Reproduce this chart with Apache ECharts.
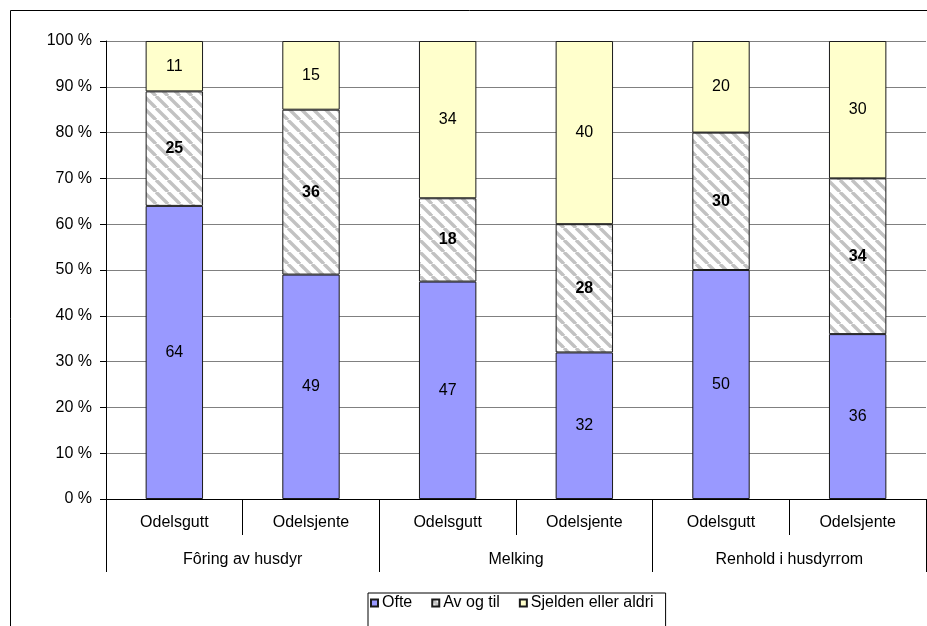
<!DOCTYPE html>
<html>
<head>
<meta charset="utf-8">
<script src="https://cdn.jsdelivr.net/npm/echarts@6/dist/echarts.min.js"></script>
<style>
html,body{margin:0;padding:0;background:#fff;}
#chart{width:927px;height:626px;}
</style>
</head>
<body>
<div id="chart"></div>
<script>
// Data
const subCategories = ['Odelsgutt', 'Odelsjente', 'Odelsgutt', 'Odelsjente', 'Odelsgutt', 'Odelsjente'];
const groupCategories = ['Fôring av husdyr', 'Melking', 'Renhold i husdyrrom'];
const seriesNames = ['Ofte', 'Av og til', 'Sjelden eller aldri'];
const ofte = [64, 49, 47, 32, 50, 36];
const avOgTil = [25, 36, 18, 28, 30, 34];
const sjelden = [11, 15, 34, 40, 20, 30];
const yTicks = [0, 10, 20, 30, 40, 50, 60, 70, 80, 90, 100];

const totals = ofte.map((v, i) => v + avOgTil[i] + sjelden[i]);
const pct = arr => arr.map((v, i) => ({ value: v / totals[i] * 100, raw: v }));

// hatch pattern
const pc = document.createElement('canvas');
const S = 12;
pc.width = S; pc.height = S;
const ctx = pc.getContext('2d');
ctx.fillStyle = '#ffffff';
ctx.fillRect(0, 0, S, S);
ctx.strokeStyle = '#c2c2c2';
ctx.lineWidth = 3.4;
for (let k = -1; k <= 1; k++) {
  ctx.beginPath();
  ctx.moveTo(k * S, 0);
  ctx.lineTo(k * S + S, S);
  ctx.stroke();
}

const font = 'Liberation Sans, Arial, sans-serif';
const FS = 16;
const chart = echarts.init(document.getElementById('chart'), null, { renderer: 'canvas' });

function mkSeries(name, data, color, bold) {
  return {
    name: name,
    type: 'bar',
    stack: 'total',
    xAxisIndex: 0,
    barWidth: '42%',
    data: pct(data),
    itemStyle: { color: color, borderColor: '#1a1a1a', borderWidth: 1 },
    emphasis: { disabled: true },
    label: {
      show: true,
      position: 'inside',
      color: '#000',
      fontFamily: font,
      fontSize: FS,
      fontWeight: bold ? 'bold' : 'normal',
      formatter: p => String(p.data.raw)
    }
  };
}

chart.setOption({
  animation: false,
  backgroundColor: '#fff',
  textStyle: { fontFamily: font },
  graphic: [{
    type: 'rect',
    shape: { x: 10.5, y: 10.5, width: 1000, height: 1000 },
    style: { fill: 'none', stroke: '#000', lineWidth: 1 },
    silent: true,
    z: -1
  }],
  grid: { left: 106, right: 1, top: 41, bottom: 127, containLabel: false },
  legend: {
    left: 368,
    top: 593,
    data: seriesNames,
    itemWidth: 7,
    itemHeight: 7,
    itemGap: 19,
    padding: [2, 12, 30, 2],
    borderColor: '#000',
    borderWidth: 1,
    icon: 'rect',
    textStyle: { fontSize: FS, color: '#000', fontFamily: font, padding: [0, 0, 0, -1] },
    selectedMode: false
  },
  xAxis: [{
    type: 'category',
    data: subCategories,
    position: 'bottom',
    axisLine: { show: true, lineStyle: { color: '#000', width: 1 } },
    axisTick: { show: true, length: 36, interval: 0, lineStyle: { color: '#000' } },
    axisLabel: { interval: 0, margin: 16, fontSize: FS, color: '#000', fontFamily: font },
    splitLine: { show: false }
  }, {
    type: 'category',
    data: groupCategories,
    position: 'bottom',
    axisLine: { show: false },
    axisTick: { show: true, length: 73, interval: 0, lineStyle: { color: '#000' } },
    axisLabel: { interval: 0, margin: 53, fontSize: FS, color: '#000', fontFamily: font },
    splitLine: { show: false }
  }],
  yAxis: {
    type: 'value',
    min: 0,
    max: 100,
    interval: 10,
    axisLine: { show: true, lineStyle: { color: '#000' } },
    axisTick: { show: true, length: 6, lineStyle: { color: '#000' } },
    axisLabel: {
      margin: 14, fontSize: FS, color: '#000', fontFamily: font,
      formatter: v => (yTicks.indexOf(v) >= 0 ? v + ' %' : '')
    },
    splitLine: { show: true, lineStyle: { color: '#808080', width: 1 } }
  },
  series: [
    mkSeries(seriesNames[0], ofte, '#9999FF', false),
    mkSeries(seriesNames[1], avOgTil, { image: pc, repeat: 'repeat' }, true),
    mkSeries(seriesNames[2], sjelden, '#FFFFCC', false)
  ]
});
</script>
</body>
</html>
